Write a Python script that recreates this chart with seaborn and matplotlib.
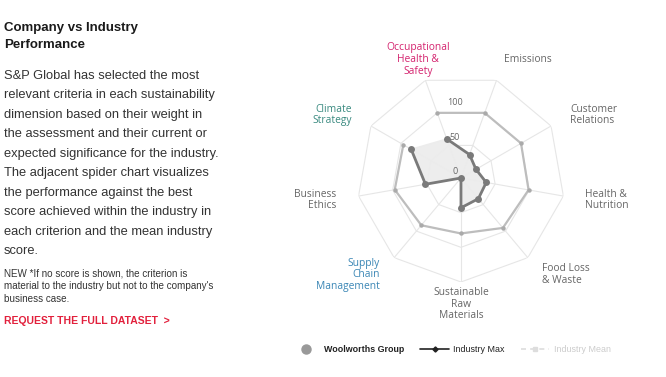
import numpy as np
import pandas as pd
import matplotlib
matplotlib.use("Agg")
import matplotlib.pyplot as plt
from matplotlib.lines import Line2D
import seaborn as sns

# ---------------- data ----------------
categories = [
    "Occupational\nHealth &\nSafety", "Emissions", "Customer\nRelations",
    "Health &\nNutrition", "Food Loss\n& Waste", "Sustainable\nRaw\nMaterials",
    "Supply\nChain\nManagement", "Business\nEthics", "Climate\nStrategy",
]
label_colors = ["#d4236e", "#666666", "#666666", "#666666", "#666666",
                "#666666", "#3a86b5", "#666666", "#3a8a80"]
company_scores = [60, 36, 25, 37, 39, 43, 0, 52, 83]
industry_max = [100, 100, 100, 99, 94, 80, 89, 97, 96]
radial_ticks = [0, 50, 100]
grid_rings = [50, 100, 150]

sns.set_theme(style="white")
plt.rcParams["font.family"] = ["Open Sans", "DejaVu Sans"]

fig = plt.figure(figsize=(6.66, 3.77), dpi=100)
fig.patch.set_facecolor("white")

# ---------------- left text block ----------------
txt_font = ["Liberation Sans", "DejaVu Sans"]
fig.text(0.006, 1 - 36.5 / 377, "Company vs Industry\nPerformance", family=txt_font,
         fontsize=9.5, fontweight="bold", color="#1a1a1a", va="center",
         linespacing=1.65)
body = ("S&P Global has selected the most\nrelevant criteria in each sustainability\n"
        "dimension based on their weight in\nthe assessment and their current or\n"
        "expected significance for the industry.\nThe adjacent spider chart visualizes\n"
        "the performance against the best\nscore achieved within the industry in\n"
        "each criterion and the mean industry\nscore.")
fig.text(0.006, 1 - 70 / 377, body, family=txt_font, fontsize=9.3,
         color="#333333", va="top", linespacing=1.83)
note = ("NEW *If no score is shown, the criterion is\nmaterial to the industry but not "
        "to the company's\nbusiness case.")
fig.text(0.006, 1 - 268 / 377, note, family=txt_font, fontsize=7.1,
         color="#333333", va="top", linespacing=1.4)
fig.text(0.006, 1 - 321 / 377, "REQUEST THE FULL DATASET  >", family=txt_font,
         fontsize=7.5, fontweight="bold", color="#e2203c", va="center")

# ---------------- spider chart ----------------
ax = fig.add_axes([0.536, 0.252, 0.3123, 0.5517], projection="polar")
ax.set_theta_zero_location("N")
ax.set_theta_direction(-1)
ax.set_ylim(0, 150)
ax.grid(False)
ax.set_xticks([])
ax.set_yticks([])
ax.spines["polar"].set_visible(False)
ax.set_facecolor("none")

n = len(categories)
theta = np.deg2rad(-20 + 40 * np.arange(n))
theta_closed = np.append(theta, theta[0])

# polygon grid and spokes
for ring in grid_rings:
    ax.plot(theta_closed, [ring] * (n + 1), color="#e6e6e6", lw=0.8, zorder=1)
for t in theta:
    ax.plot([t, t], [0, grid_rings[-1]], color="#e6e6e6", lw=0.8, zorder=1)

df = pd.DataFrame({
    "theta": np.concatenate([theta_closed, theta_closed]),
    "score": company_scores + company_scores[:1] + industry_max + industry_max[:1],
    "series": ["Woolworths Group"] * (n + 1) + ["Industry Max"] * (n + 1),
})

ind = df[df["series"] == "Industry Max"]
sns.lineplot(data=ind, x="theta", y="score", sort=False, ax=ax, color="#bdbdbd",
             lw=1.6, marker="o", markersize=3.2, markeredgewidth=0,
             markerfacecolor="#aaaaaa", zorder=3)
comp = df[df["series"] == "Woolworths Group"]
ax.fill(comp["theta"], comp["score"], color="#ececec", alpha=0.95, zorder=2)
sns.lineplot(data=comp, x="theta", y="score", sort=False, ax=ax, color="#7a7a7a",
             lw=2.0, marker="o", markersize=5, markeredgewidth=0,
             markerfacecolor="#7a7a7a", zorder=4)
ax.set_xlabel("")
ax.set_ylabel("")

for v in radial_ticks:
    ax.annotate(str(v), (0, v), xytext=(-4.5, 4.5), textcoords="offset points",
                ha="center", va="center", fontsize=6.5, color="#666666", zorder=5)

for t, lab, col in zip(theta, categories, label_colors):
    deg = np.rad2deg(t) % 360
    if deg > 335 or abs(deg - 180) < 10:
        ha = "center"
    elif deg < 180:
        ha = "left"
    else:
        ha = "right"
    ax.text(t, 182, lab, ha=ha, va="center", fontsize=7.4, color=col,
            linespacing=1.08, clip_on=False)

# ---------------- legend ----------------
handles = [
    Line2D([0], [0], ls="none", marker="o", markersize=6.5, color="#999999"),
    Line2D([0], [0], color="#222222", lw=1.2, marker="D", markersize=2.6),
    Line2D([0], [0], color="#dddddd", lw=1.2, ls=(0, (3, 2.5)), marker="s",
           markersize=3),
]
leg = fig.legend(handles, ["Woolworths Group", "Industry Max", "Industry Mean"],
                 loc="center", bbox_to_anchor=(451 / 666, 1 - 350 / 377), ncol=3,
                 frameon=False, handlelength=3.2, handletextpad=0.5,
                 columnspacing=1.8, prop={"family": txt_font, "size": 6.4})
for text, col, w in zip(leg.get_texts(), ["#222222", "#222222", "#cccccc"],
                        ["bold", "normal", "normal"]):
    text.set_color(col)
    text.set_fontweight(w)

fig.savefig("out.png", dpi=100, facecolor="white")
